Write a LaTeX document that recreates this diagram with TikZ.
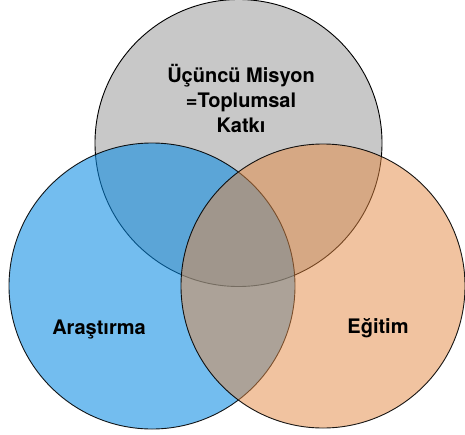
\documentclass[tikz,border=0pt]{standalone}
\usepackage{fontspec}
\setmainfont{TeX Gyre Heros}
\begin{document}
\begin{tikzpicture}[x=1pt,y=-1pt,
  ring/.style={draw=black,line width=0.9pt},
  label/.style={font=\bfseries\fontsize{20}{25}\selectfont,text=black,align=center}]
\definecolor{ringgray}{RGB}{200,200,200}
\definecolor{ringblue}{RGB}{10,140,228}
\definecolor{ringorange}{RGB}{229,137,66}
\useasboundingbox (0,0) rectangle (465,434);
\fill[white] (0,0) rectangle (465,434);
% three overlapping circles, later ones translucent over earlier ones
\draw[ring,fill=ringgray] (238.5,143) circle[radius=143.5];
\draw[ring,fill=ringblue,fill opacity=0.57,draw opacity=0.9] (152,286) circle[radius=143];
\draw[ring,fill=ringorange,fill opacity=0.5,draw opacity=0.9] (323,286) circle[radius=142];
% labels
\node[label] (mission) at (241,98) {Üçüncü Misyon\\=Toplumsal\\Katkı};
\node[label] (research) at (99,329) {Araştırma};
\node[label] (education) at (378,328) {Eğitim};
\end{tikzpicture}
\end{document}
